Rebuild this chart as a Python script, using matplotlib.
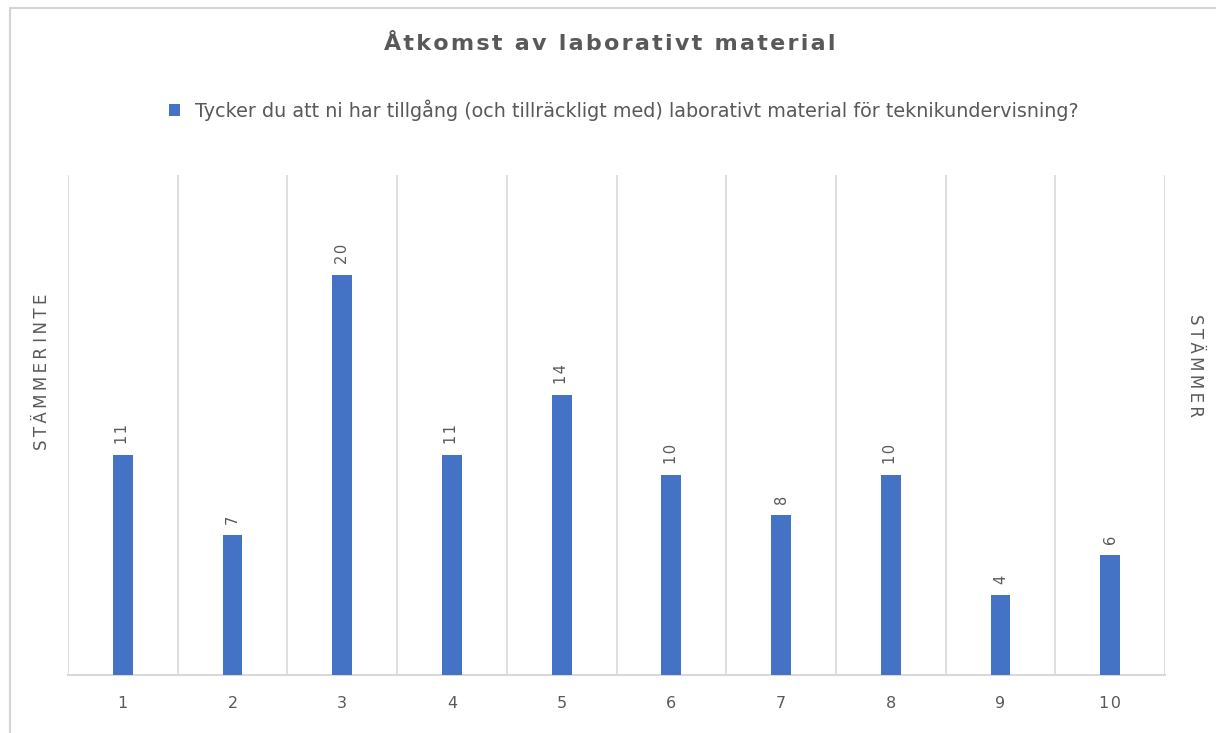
import matplotlib.pyplot as plt
from matplotlib.patches import Rectangle

plt.rcParams['font.family'] = ['DejaVu Sans']

# Svar per skalsteg, 1 = stämmer inte ... 10 = stämmer
steps = ['1', '2', '3', '4', '5', '6', '7', '8', '9', '10']
counts = [11, 7, 20, 11, 14, 10, 8, 10, 4, 6]
series_name = 'Tycker du att ni har tillgång (och tillräckligt med) laborativt material för teknikundervisning?'
title = 'Åtkomst av laborativt material'
low_label = 'STÄMMER INTE'
high_label = 'STÄMMER'

BLUE = '#4472C4'
GRID = '#d9d9d9'
TEXT = '#595959'
HS = '\u200a'  # hair space for letter spacing
TS = '\u2009'  # thin space, wider letter spacing


def spaced(s, sep):
    # letter spacing inside words, plain gap between words
    return ' '.join(sep.join(w) for w in s.split(' '))


W, H = 1216, 733
fig = plt.figure(figsize=(W / 100, H / 100), dpi=100)
ax = fig.add_axes([68 / W, 1 - 675 / H, (1165 - 68) / W, (675 - 175) / H])

x = list(range(len(steps)))
bars = ax.bar(x, counts, width=0.18, color=BLUE, label=series_name, zorder=3)

# value labels, rotated, just above each bar
for xi, v in zip(x, counts):
    ax.annotate(HS.join(str(v)), (xi, v), xytext=(0, 8), textcoords='offset points',
                rotation=90, ha='center', va='bottom', fontsize=10.5, color=TEXT)

ax.set_xlim(-0.5, len(steps) - 0.5)
ax.set_ylim(0, 25)
ax.set_xticks(x)
ax.set_xticklabels([HS.join(s) for s in steps], fontsize=11.5, color=TEXT)
ax.tick_params(axis='x', length=0, pad=15)
ax.set_yticks([])

# vertical separators between categories
for b in range(len(steps) + 1):
    ax.axvline(b - 0.5, color=GRID, lw=1.2, zorder=1)

for side in ['top', 'left', 'right']:
    ax.spines[side].set_visible(False)
ax.spines['bottom'].set_color(GRID)
ax.spines['bottom'].set_linewidth(1.5)

fig.text(610 / W, 1 - 44 / H, HS.join(title), ha='center', va='center',
         fontsize=16, fontweight='bold', color=TEXT)

fig.legend(handles=[bars], labels=[series_name], loc='center', frameon=False,
           bbox_to_anchor=(624 / W, 1 - 110 / H), fontsize=13.8,
           handlelength=0.55, handleheight=0.55, handletextpad=0.8, labelcolor=TEXT)

fig.text(42 / W, 1 - 372 / H, spaced(low_label, TS), rotation=90, ha='center',
         va='center', fontsize=12, color=TEXT)
fig.text(1195 / W, 1 - 365 / H, spaced(high_label, TS), rotation=-90, ha='center',
         va='center', fontsize=12, color=TEXT)

# outer chart frame
fig.patches.append(Rectangle((10 / W, -0.1), 1.2, 1 - 8 / H + 0.1, transform=fig.transFigure,
                             fill=False, edgecolor='#d4d4d4', lw=1.5))

fig.savefig('out.png', dpi=100)
